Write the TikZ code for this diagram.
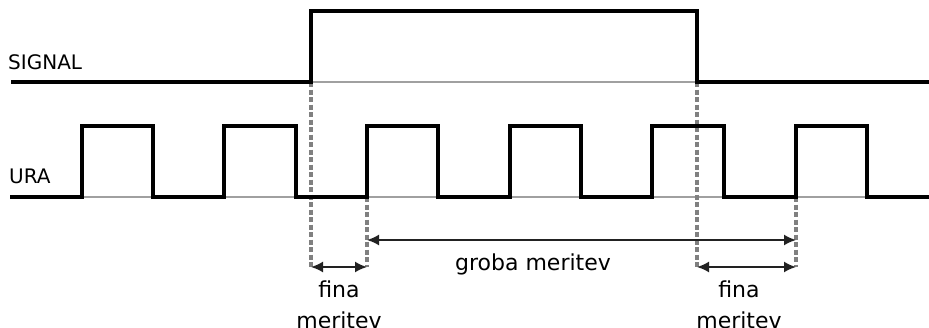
\documentclass[tikz,border=0pt]{standalone}
\usepackage{fontspec}
\setmainfont{DejaVu Sans}
\usetikzlibrary{arrows.meta}
\definecolor{dashgray}{HTML}{808080}
\definecolor{basegray}{HTML}{A0A0A0}
\definecolor{arrowgray}{HTML}{222222}
\tikzset{
  wave/.style={line width=3.6pt, black, line join=miter},
  baseline/.style={line width=1.6pt, basegray},
  guide/.style={line width=3.6pt, dashgray, dash pattern=on 5pt off 2.5pt},
  measure/.style={line width=1.8pt, arrowgray, {Latex[length=12pt,width=11pt]}-{Latex[length=12pt,width=11pt]}},
  lbl/.style={font=\fontsize{20}{24}\selectfont, anchor=base west, inner sep=0pt},
  mlbl/.style={font=\fontsize{22}{26}\selectfont, anchor=base, inner sep=0pt}
}
\begin{document}
\begin{tikzpicture}[x=1pt,y=-1pt]
\useasboundingbox (0,0) rectangle (929,327);
% key points
\coordinate (sr) at (311,82);
\coordinate (sf) at (697,82);
\coordinate (ur) at (367,197);
\coordinate (uf) at (796,197);
\coordinate (d1) at (311,267);
\coordinate (d2) at (367,267);
\coordinate (d3) at (697,267);
\coordinate (d4) at (796,267);
\coordinate (g1) at (367,240);
\coordinate (g2) at (796,240);
% baselines
\draw[baseline] (311,82) -- (697,82);
\draw[baseline] (10,197) -- (929,197);
% guides
\draw[guide] (sr) -- (d1);
\draw[guide] (ur) -- (d2);
\draw[guide] (sf) -- (d3);
\draw[guide] (uf) -- (d4);
% waveforms
\draw[wave] (11,82) -- (sr) -- (311,11) -- (697,11) -- (sf) -- (929,82);
\draw[wave] (10,197) -- (82,197) -- (82,126) -- (153,126) -- (153,197)
  -- (224,197) -- (224,126) -- (296,126) -- (296,197)
  -- (ur) -- (367,126) -- (438,126) -- (438,197)
  -- (510,197) -- (510,126) -- (581,126) -- (581,197)
  -- (652,197) -- (652,126) -- (724,126) -- (724,197)
  -- (uf) -- (796,126) -- (867,126) -- (867,197) -- (929,197);
% measurement arrows
\draw[measure] (d1) -- (d2);
\draw[measure] (g1) -- (g2);
\draw[measure] (d3) -- (d4);
% labels
\node[lbl] (signal) at (8,69) {SIGNAL};
\node[lbl] (ura) at (9,183) {URA};
\node[mlbl] (groba) at (533,270) {groba meritev};
\node[mlbl] (fina1) at (339,297) {fina};
\node[mlbl] (mer1) at (339,328) {meritev};
\node[mlbl] (fina2) at (739,297) {fina};
\node[mlbl] (mer2) at (739,328) {meritev};
\end{tikzpicture}
\end{document}
